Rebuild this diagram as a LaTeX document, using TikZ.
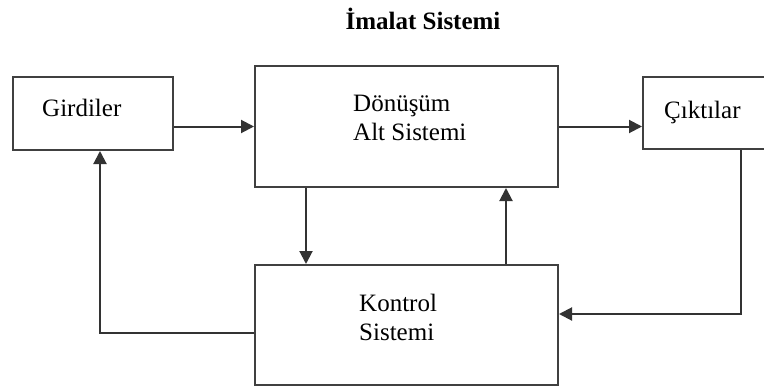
\documentclass[tikz,border=0pt]{standalone}
\usepackage{fontspec}
\setmainfont{Liberation Serif}
\usepackage{tikz}
\usetikzlibrary{arrows.meta,calc,positioning}
\tikzstyle{every node}=[font=\fontsize{25}{29}\selectfont]
\tikzstyle{block}=[rectangle,
                   draw=black!75,
                   line width=2pt,
                   inner sep=0pt,
                   fill=white]
\tikzstyle{label}=[anchor=base west,
                   inner sep=0pt,
                   align=left]
\tikzstyle{flow}=[draw=black!80,
                  line width=2pt,
                  -{Triangle[length=13pt,width=13pt]}]

\begin{document}
\begin{tikzpicture}[x=1pt,y=-1pt]
\useasboundingbox[fill=white] (0,0) rectangle (764,391);
\node (title) at (423,29) [anchor=base,inner sep=0pt,font=\fontsize{25}{30}\selectfont\bfseries] {İmalat Sistemi};
\node (girdiler) at (93,113.5)  [block,minimum width=160pt,minimum height=73pt] {};
\node (donusum)  at (406.5,126.5) [block,minimum width=303pt,minimum height=121pt] {};
\node (ciktilar) at (709,113)   [block,minimum width=132pt,minimum height=72pt] {};
\node (kontrol)  at (406.5,325) [block,minimum width=303pt,minimum height=120pt] {};
% text lines; the base of a two line label is its second line
\node (girdilerT) at ($(girdiler.north west)+(30,40)$) [label] {Girdiler};
\node (ciktilarT) at ($(ciktilar.north west)+(22,42)$) [label] {Çıktılar};
\node (donusumT)  at ($(donusum.north west)+(99,75)$) [label] {Dönüşüm\\Alt Sistemi};
\node (kontrolT)  at ($(kontrol.north west)+(105,76)$) [label] {Kontrol\\Sistemi};
\coordinate (down) at ($(donusum.south west)+(52,0)$);
\coordinate (up)   at ($(kontrol.north west)+(252,0)$);
\coordinate (back) at ($(ciktilar.south west)+(99,0)$);
 \path[flow] (donusum.west -| girdiler.east) -- (donusum.west);
 \path[flow] (donusum.east) -- (donusum.east -| ciktilar.west);
 \path[flow] (down) -- (down |- kontrol.north);
 \path[flow] (up) -- (up |- donusum.south);
 \path[flow] ($(kontrol.west)+(0,8)$) -| ($(girdiler.south)+(7,0)$);
 \path[flow] (back) |- ($(kontrol.east)+(0,-11)$);
\end{tikzpicture}
\end{document}
